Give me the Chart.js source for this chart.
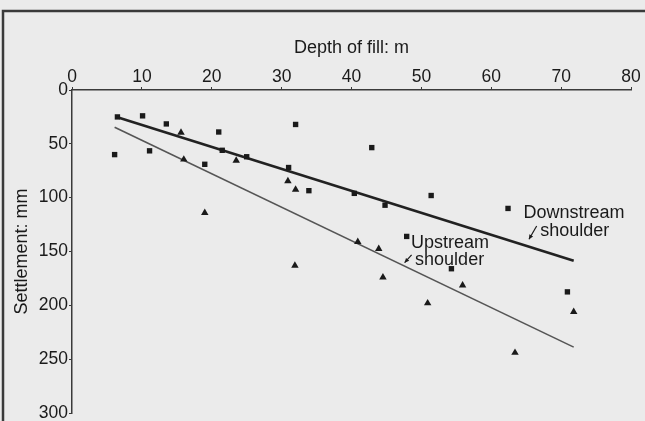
<!DOCTYPE html>
<html>
<head>
<meta charset="utf-8">
<script src="https://cdn.jsdelivr.net/npm/chart.js@4"></script>
<style>
  html, body { margin: 0; padding: 0; background: #ebebeb; overflow: hidden; }
  #wrap { width: 645px; height: 421px; }
  canvas { display: block; }
</style>
</head>
<body>
<div id="wrap"><canvas id="settlementChart" width="645" height="421"></canvas></div>
<script>
// Downstream shoulder readings (squares): depth of fill (m) / settlement (mm)
const downDepth  = [6.5, 10.1, 13.5, 21.0, 6.1, 11.1, 21.5, 19.0, 25.0, 32.0, 31.0, 33.9, 40.4, 42.9, 44.8, 51.4, 62.4, 47.9, 54.3, 70.9];
const downSettle = [25,  24,   31.5, 39,   60,  56.5, 56,   69,   62,   32,   72,   93.5, 96,   53.5, 107,  98,   110,  136,  166,  187.5];

// Upstream shoulder readings (triangles)
const upDepth  = [15.6, 16.0, 23.5, 19.0, 30.9, 32.0, 31.9, 40.9, 43.9, 44.5, 50.9, 55.9, 63.4, 71.8];
const upSettle = [39.5, 64.5, 65.5, 114,  84.5, 92.5, 163,  141,  147.5, 174, 198,  181.5, 244, 206];

// fitted lines, end points
const downLineDepth  = [6.5, 71.8];
const downLineSettle = [25.4, 158.5];
const upLineDepth    = [6.1, 71.8];
const upLineSettle   = [34.6, 238.8];

const xTicks = [0, 10, 20, 30, 40, 50, 60, 70, 80];
const yTicks = [0, 50, 100, 150, 200, 250, 300];

// annotation text (baseline position in data units) and the little arrows
const noteText   = ["Downstream", "shoulder", "Upstream", "shoulder"];
const noteDepth  = [64.6, 67.0, 48.5, 49.1];
const noteSettle = [119.1, 135.6, 146.6, 162.5];
const arrowFrom  = [[66.5, 126.3], [48.6, 153.2]];
const arrowTo    = [[65.4, 138.6], [47.6, 160.4]];

const ink = "#1a1a1a";
const fontFamily = "'Liberation Sans', Arial, sans-serif";

function pairs(xs, ys) {
    return xs.map((x, i) => ({ x: x, y: ys[i] }));
}

// page frame + background of the scanned figure
const framePlugin = {
    id: "frame",
    beforeDraw(chart) {
        const ctx = chart.ctx;
        ctx.save();
        ctx.fillStyle = "#ebebeb";
        ctx.fillRect(0, 0, chart.width, chart.height);
        ctx.strokeStyle = "#3a3a3a";
        ctx.lineWidth = 2.5;
        ctx.beginPath();
        ctx.moveTo(3, chart.height + 5);
        ctx.lineTo(3, 11);
        ctx.lineTo(chart.width + 5, 11);
        ctx.stroke();
        ctx.restore();
    }
};

const notesPlugin = {
    id: "notes",
    afterDatasetsDraw(chart) {
        const ctx = chart.ctx;
        const xs = chart.scales.x, ys = chart.scales.y;
        ctx.save();
        ctx.fillStyle = ink;
        ctx.font = "18px " + fontFamily;
        ctx.textAlign = "left";
        ctx.textBaseline = "alphabetic";
        noteText.forEach((t, i) => {
            ctx.fillText(t, xs.getPixelForValue(noteDepth[i]), ys.getPixelForValue(noteSettle[i]));
        });
        ctx.strokeStyle = ink;
        ctx.lineWidth = 1.2;
        arrowFrom.forEach((f, i) => {
            const x0 = xs.getPixelForValue(f[0]), y0 = ys.getPixelForValue(f[1]);
            const x1 = xs.getPixelForValue(arrowTo[i][0]), y1 = ys.getPixelForValue(arrowTo[i][1]);
            ctx.beginPath();
            ctx.moveTo(x0, y0);
            ctx.lineTo(x1, y1);
            ctx.stroke();
            const a = Math.atan2(y1 - y0, x1 - x0);
            ctx.beginPath();
            ctx.moveTo(x1, y1);
            ctx.lineTo(x1 - 5 * Math.cos(a - 0.45), y1 - 5 * Math.sin(a - 0.45));
            ctx.lineTo(x1 - 5 * Math.cos(a + 0.45), y1 - 5 * Math.sin(a + 0.45));
            ctx.closePath();
            ctx.fill();
        });
        ctx.restore();
    }
};

const ctx = document.getElementById("settlementChart").getContext("2d");

new Chart(ctx, {
    type: "scatter",
    data: {
        datasets: [
            {
                label: "Downstream shoulder",
                data: pairs(downDepth, downSettle),
                pointStyle: "rect",
                pointRadius: 3.8,
                backgroundColor: ink,
                borderWidth: 0
            },
            {
                label: "Upstream shoulder",
                data: pairs(upDepth, upSettle),
                pointStyle: "triangle",
                pointRadius: 4.3,
                backgroundColor: ink,
                borderWidth: 0
            },
            {
                label: "Downstream fit",
                data: pairs(downLineDepth, downLineSettle),
                showLine: true,
                pointRadius: 0,
                borderColor: "#222222",
                borderWidth: 2.6
            },
            {
                label: "Upstream fit",
                data: pairs(upLineDepth, upLineSettle),
                showLine: true,
                pointRadius: 0,
                borderColor: "#555555",
                borderWidth: 1.6
            }
        ]
    },
    options: {
        responsive: false,
        animation: false,
        layout: { padding: { left: 0, top: 0, right: 14, bottom: 8 } },
        plugins: {
            legend: { display: false },
            tooltip: { enabled: false }
        },
        scales: {
            x: {
                type: "linear",
                position: "top",
                min: 0,
                max: 80,
                afterBuildTicks: s => { s.ticks = xTicks.map(v => ({ value: v })); },
                afterFit: s => { s.height = 90; s.paddingLeft = 0; s.paddingRight = 0; },
                border: { display: true, color: "#3a3a3a", width: 1.5 },
                grid: { display: true, drawOnChartArea: false, tickLength: 3, color: "#3a3a3a" },
                ticks: {
                    color: ink,
                    padding: 1,
                    maxRotation: 0,
                    font: { family: fontFamily, size: 17.5, lineHeight: 1 }
                },
                title: {
                    display: true,
                    text: "Depth of fill: m",
                    color: ink,
                    padding: { top: 37, bottom: 0 },
                    font: { family: fontFamily, size: 18 }
                }
            },
            y: {
                type: "linear",
                reverse: true,
                min: 0,
                max: 300,
                afterBuildTicks: s => { s.ticks = yTicks.map(v => ({ value: v })); },
                afterFit: s => { s.width = 72; s.paddingTop = 0; s.paddingBottom = 0; },
                border: { display: true, color: "#3a3a3a", width: 1.5 },
                grid: { display: true, drawOnChartArea: false, tickLength: 3, color: "#3a3a3a" },
                ticks: {
                    color: ink,
                    padding: 1,
                    font: { family: fontFamily, size: 17.5, lineHeight: 1 }
                },
                title: {
                    display: true,
                    text: "Settlement: mm",
                    color: ink,
                    padding: { top: 11, bottom: 0 },
                    font: { family: fontFamily, size: 18 }
                }
            }
        }
    },
    plugins: [framePlugin, notesPlugin]
});
</script>
</body>
</html>
